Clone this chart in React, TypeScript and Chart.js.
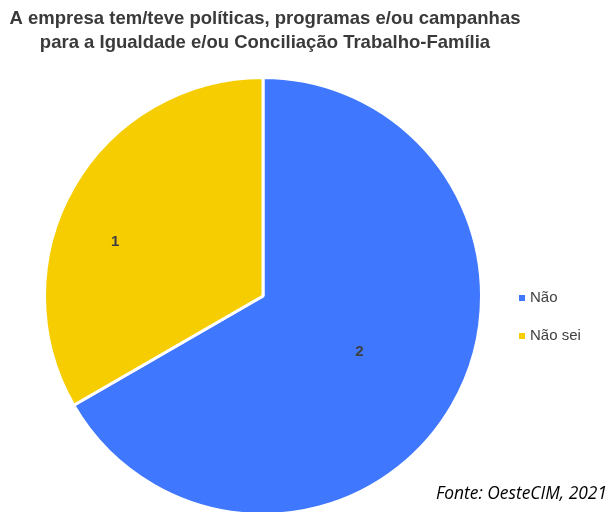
import React, { useEffect, useRef } from "react";
import { Chart, registerables } from "chart.js";

Chart.register(...registerables);

const categories = ["Não", "Não sei"];
const values = [2, 1];
const colors = ["#3F77FF", "#F5CD00"];
const titleLines = [
  "A empresa tem/teve políticas, programas e/ou campanhas",
  "para a Igualdade e/ou Conciliação Trabalho-Família",
];
const sourceText = "Fonte: OesteCIM, 2021";

const labelPlugin = {
  id: "sliceLabels",
  afterDatasetsDraw(chart: any, _args: any, opts: any) {
    const ctx = chart.ctx;
    const meta = chart.getDatasetMeta(0);
    ctx.save();
    ctx.font = "bold 15px 'Liberation Sans', Arial, sans-serif";
    ctx.fillStyle = "#404040";
    ctx.textAlign = "center";
    ctx.textBaseline = "middle";
    meta.data.forEach((arc: any, i: number) => {
      const p = arc.getProps(["x", "y", "startAngle", "endAngle", "outerRadius"], true);
      const mid = (p.startAngle + p.endAngle) / 2 + (opts.angleOffsets[i] * Math.PI) / 180;
      const f = opts.radiusFactors[i];
      const x = p.x + Math.cos(mid) * p.outerRadius * f;
      const y = p.y + Math.sin(mid) * p.outerRadius * f;
      ctx.fillText(String(chart.data.datasets[0].data[i]), x, y);
    });
    ctx.restore();
  },
};

const decorPlugin = {
  id: "decor",
  afterDraw(chart: any) {
    const ctx = chart.ctx;
    const area = chart.chartArea;
    const meta = chart.getDatasetMeta(0);
    const arc = meta.data[0];
    const cy = arc ? arc.y : (area.top + area.bottom) / 2;
    const cx = arc ? arc.x : (area.left + area.right) / 2;
    ctx.save();
    // title
    ctx.font = "bold 18.5px 'Liberation Sans', Arial, sans-serif";
    ctx.fillStyle = "#3a3a3a";
    ctx.textAlign = "center";
    ctx.textBaseline = "alphabetic";
    titleLines.forEach((line, i) => {
      ctx.fillText(line, cx + 2, 23.5 + i * 24);
    });
    // legend
    const x0 = area.right + 36;
    const gap = 38;
    const startY = cy + 2;
    ctx.font = "15px 'Liberation Sans', Arial, sans-serif";
    ctx.textBaseline = "middle";
    ctx.textAlign = "left";
    chart.data.labels.forEach((lab: string, i: number) => {
      const y = startY + i * gap;
      ctx.fillStyle = chart.data.datasets[0].backgroundColor[i];
      ctx.fillRect(x0, y - 3, 6, 6);
      ctx.fillStyle = "#404040";
      ctx.fillText(lab, x0 + 11, y);
    });
    // source
    ctx.font = "italic 17.4px 'Open Sans', sans-serif";
    ctx.textAlign = "right";
    ctx.textBaseline = "alphabetic";
    ctx.fillStyle = "#000000";
    ctx.fillText(sourceText, chart.width - 2, 499);
    ctx.restore();
  },
};

export default function App() {
  const ref = useRef<HTMLCanvasElement | null>(null);
  useEffect(() => {
    if (!ref.current) return;
    const chart = new Chart(ref.current, {
      type: "pie",
      data: {
        labels: categories,
        datasets: [
          {
            data: values,
            backgroundColor: colors,
            borderColor: "#ffffff",
            borderWidth: 3,
          },
        ],
      },
      options: {
        responsive: false,
        animation: false,
        layout: { padding: { left: 43, right: 126, top: 76, bottom: 14 } },
        plugins: {
          legend: { display: false },
          tooltip: { enabled: false },
          title: { display: false },
          sliceLabels: { radiusFactors: [0.51, 0.72], angleOffsets: [0, -10] },
        } as any,
      },
      plugins: [labelPlugin, decorPlugin],
    });
    return () => chart.destroy();
  }, []);
  return (
    <div style={{ position: "fixed", left: 0, top: 0, width: 609, height: 512, overflow: "hidden", background: "#fff" }}>
      <canvas ref={ref} width={609} height={530} style={{ display: "block" }} />
    </div>
  );
}
